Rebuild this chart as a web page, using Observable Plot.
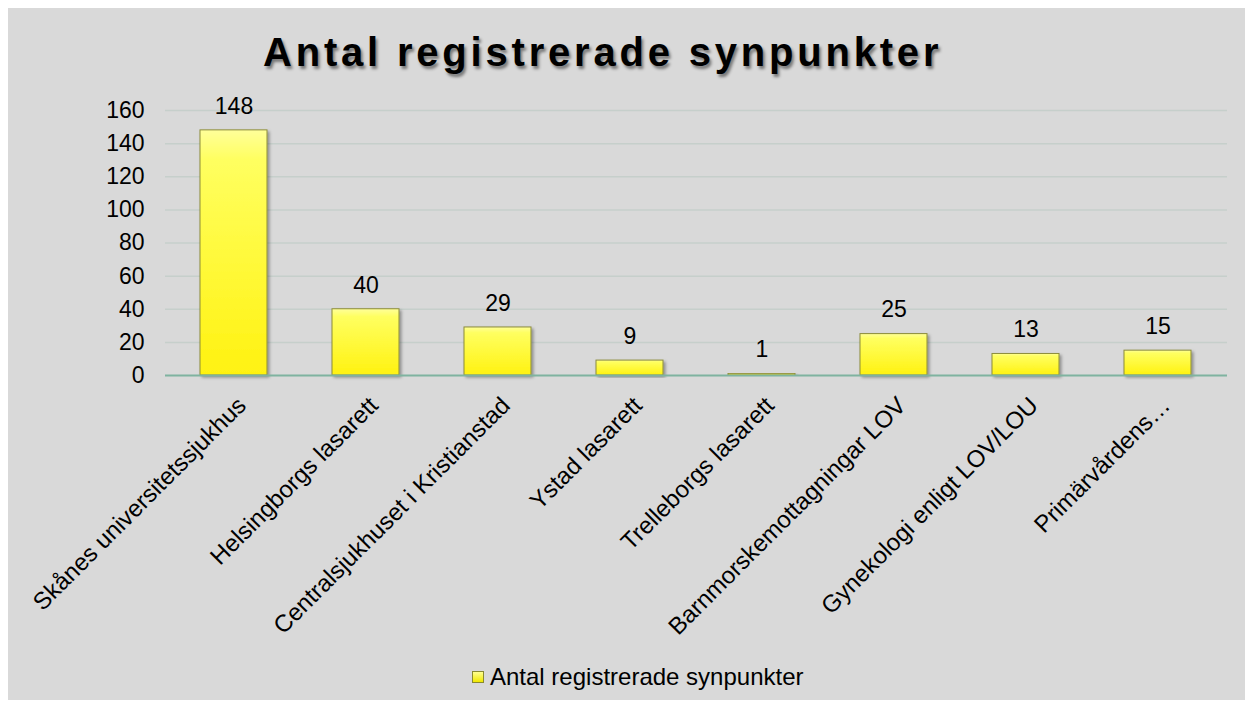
<!DOCTYPE html>
<html><head><meta charset="utf-8">
<script src="https://cdn.jsdelivr.net/npm/d3@7"></script>
<script src="https://cdn.jsdelivr.net/npm/@observablehq/plot@0.6"></script>
<style>
body{margin:0;background:#fff;font-family:"Liberation Sans",Arial,sans-serif;}
#frame{position:absolute;left:8px;top:8px;width:1237px;height:692px;background:#d9d9d9;}
#title{position:absolute;left:263px;top:29px;line-height:46px;white-space:nowrap;font-size:40px;font-weight:bold;letter-spacing:3.8px;color:#000;text-shadow:2px 3px 3px rgba(0,0,0,0.45);}
#chart{position:absolute;left:0;top:0;}
#legend{position:absolute;left:472px;top:663px;font-size:24px;line-height:28px;color:#000;display:flex;align-items:center;white-space:nowrap;}
#legend .sw{width:10px;height:10px;background:linear-gradient(180deg,#ffff90,#f0e800);border:1px solid #8a8a30;margin-right:6px;}
</style></head>
<body>
<div id="frame"></div>
<div id="chart"></div>
<div id="title">Antal registrerade synpunkter</div>
<div id="legend"><span class="sw"></span><span>Antal registrerade synpunkter</span></div>
<script>
const categories = ["Skånes universitetssjukhus","Helsingborgs lasarett","Centralsjukhuset i Kristianstad","Ystad lasarett","Trelleborgs lasarett","Barnmorskemottagningar LOV","Gynekologi enligt LOV/LOU","Primärvårdens…"];
const values = [148,40,29,9,1,25,13,15];
const yTicks = [0,20,40,60,80,100,120,140,160];
const data = categories.map((c,i)=>({category:c,value:values[i]}));

const chart = Plot.plot({
  width:1253, height:709,
  marginLeft:165, marginRight:26, marginTop:110, marginBottom:334,
  style:{background:"transparent",fontFamily:"Liberation Sans, Arial, sans-serif",fontSize:"23px",color:"#000"},
  x:{domain:categories,paddingInner:0.49,paddingOuter:0.245,label:null},
  y:{domain:[0,160],label:null},
  marks:[
    Plot.gridY(yTicks.filter(t=>t>0),{stroke:"#c6cfcb",strokeOpacity:1,strokeWidth:1.5}),
    Plot.axisY(yTicks,{tickSize:0,tickPadding:21,fontSize:23,label:null}),
    Plot.axisX({tickSize:0,tickRotate:-45,tickPadding:26,fontSize:24,label:null}),
    Plot.barY(data,{x:"category",y:"value",fill:"url(#barGrad)",stroke:"#8c8c3a",strokeWidth:1}),
    Plot.ruleY([0],{stroke:"#7fb3a0",strokeWidth:2}),
    Plot.text(data,{x:"category",y:"value",text:d=>String(d.value),dy:-24,fontSize:23,fill:"#000"})
  ]
});
const svg = d3.select(chart);
const defs = svg.insert("defs",":first-child");
const g = defs.append("linearGradient").attr("id","barGrad").attr("x1","0").attr("y1","0").attr("x2","0").attr("y2","1");
g.append("stop").attr("offset","0%").attr("stop-color","#ffff9a");
g.append("stop").attr("offset","12%").attr("stop-color","#ffff60");
g.append("stop").attr("offset","100%").attr("stop-color","#fff210");
const f = defs.append("filter").attr("id","shadow").attr("x","-20%").attr("y","-20%").attr("width","140%").attr("height","140%");
f.append("feDropShadow").attr("dx",2).attr("dy",2).attr("stdDeviation",1.5).attr("flood-color","#000").attr("flood-opacity",0.35);
svg.selectAll("g[aria-label='bar'] rect").attr("filter","url(#shadow)");
svg.selectAll("g[aria-label='x-axis tick label']").each(function(){
  const t = this.getAttribute("transform") || "";
  this.setAttribute("transform", "translate(8,0) " + t);
});
document.getElementById("chart").appendChild(chart);
</script>
</body></html>
